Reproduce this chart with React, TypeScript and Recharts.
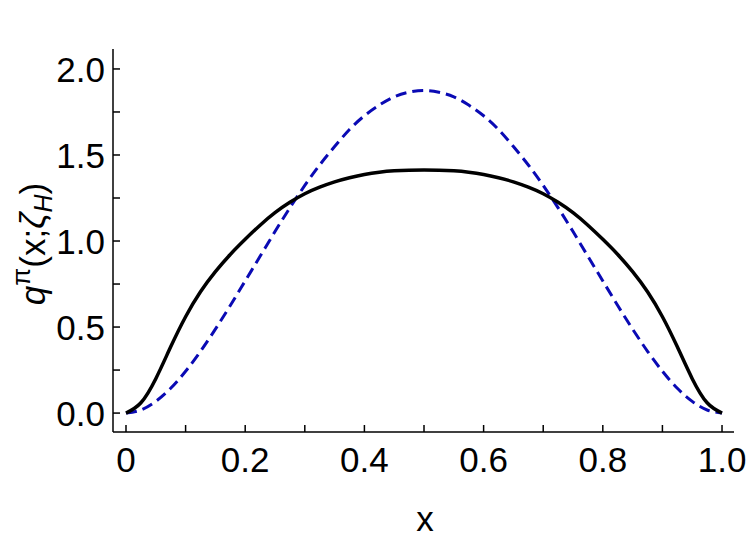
import { Line, LineChart, XAxis, YAxis } from "recharts";

// values at x steps of 0.025
const xs = [
  0, 0.025, 0.05, 0.075, 0.1, 0.125, 0.15, 0.175, 0.2, 0.225, 0.25, 0.275, 0.3,
  0.325, 0.35, 0.375, 0.4, 0.425, 0.45, 0.475, 0.5, 0.525, 0.55, 0.575, 0.6,
  0.625, 0.65, 0.675, 0.7, 0.725, 0.75, 0.775, 0.8, 0.825, 0.85, 0.875, 0.9,
  0.925, 0.95, 0.975, 1,
];

// solid black curve
const qSolid = [
  0, 0.06, 0.2, 0.385, 0.56, 0.705, 0.822, 0.922, 1.01, 1.092, 1.165, 1.225, 1.275,
  1.313, 1.344, 1.368, 1.387, 1.4, 1.408, 1.412, 1.413, 1.412, 1.408, 1.4,
  1.387, 1.368, 1.344, 1.313, 1.275, 1.225, 1.165, 1.092, 1.01, 0.922, 0.822, 0.705,
  0.56, 0.385, 0.2, 0.06, 0,
];

// dashed blue curve
const qDashed = [
  0, 0.018, 0.068, 0.144, 0.243, 0.359, 0.488, 0.625, 0.768, 0.911, 1.055, 1.193,
  1.323, 1.442, 1.549, 1.648, 1.728, 1.79, 1.838, 1.865, 1.875, 1.865, 1.838,
  1.79, 1.728, 1.648, 1.549, 1.442, 1.323, 1.193, 1.055, 0.911, 0.768, 0.625,
  0.488, 0.359, 0.243, 0.144, 0.068, 0.018, 0,
];

const xTicks = [0, 0.1, 0.2, 0.3, 0.4, 0.5, 0.6, 0.7, 0.8, 0.9, 1.0];
const yTicks = [0, 0.25, 0.5, 0.75, 1.0, 1.25, 1.5, 1.75, 2.0];

const data = xs.map((x, i) => ({ x, solid: qSolid[i], dashed: qDashed[i] }));

const FONT = "'Liberation Sans', Arial, sans-serif";
const TICK = 7;

function fmtX(v: number) {
  return v === 0 ? "0" : v.toFixed(1);
}

function BottomTick(props: any) {
  const { x, y, payload } = props;
  const major = Math.round(payload.value * 10) % 2 === 0;
  return (
    <g>
      <line x1={x} y1={y} x2={x} y2={y - TICK} stroke="#000" strokeWidth={1.5} />
      {major && (
        <text x={x} y={y + 40} textAnchor="middle" fontSize={35} fontFamily={FONT} fill="#000">
          {fmtX(payload.value)}
        </text>
      )}
    </g>
  );
}

function TopTick(props: any) {
  const { x, y } = props;
  return <line x1={x} y1={y} x2={x} y2={y + TICK} stroke="#000" strokeWidth={1.5} />;
}

function LeftTick(props: any) {
  const { x, y, payload } = props;
  const major = Math.round(payload.value * 4) % 2 === 0;
  return (
    <g>
      <line x1={x} y1={y} x2={x + TICK} y2={y} stroke="#000" strokeWidth={1.5} />
      {major && (
        <text x={x - 8} y={y + 13} textAnchor="end" fontSize={35} fontFamily={FONT} fill="#000">
          {payload.value.toFixed(1)}
        </text>
      )}
    </g>
  );
}

function RightTick(props: any) {
  const { x, y } = props;
  return <line x1={x} y1={y} x2={x - TICK} y2={y} stroke="#000" strokeWidth={1.5} />;
}

export default function App() {
  const axisLine = { stroke: "#000", strokeWidth: 1.5 };
  return (
    <div style={{ position: "absolute", left: 0, top: 0, background: "#fff" }}>
      <LineChart
        width={750}
        height={542}
        data={data}
        margin={{ top: 49, right: 16, bottom: 0, left: 0 }}
      >
        <XAxis
          dataKey="x"
          type="number"
          domain={[-0.0218, 1.0201]}
          allowDataOverflow
          ticks={xTicks}
          interval={0}
          tickSize={0}
          tickMargin={0}
          tickLine={false}
          axisLine={axisLine}
          tick={<BottomTick />}
          height={110}
        />
        <XAxis
          xAxisId="top"
          orientation="top"
          type="number"
          domain={[-0.0218, 1.0201]}
          allowDataOverflow
          ticks={xTicks}
          interval={0}
          tickSize={0}
          tickMargin={0}
          tickLine={false}
          axisLine={axisLine}
          tick={<TopTick />}
          height={0}
        />
        <YAxis
          type="number"
          domain={[-0.11, 2.116]}
          allowDataOverflow
          ticks={yTicks}
          interval={0}
          tickSize={0}
          tickMargin={0}
          tickLine={false}
          axisLine={axisLine}
          tick={<LeftTick />}
          width={113}
        />
        <YAxis
          yAxisId="right"
          orientation="right"
          type="number"
          domain={[-0.11, 2.116]}
          allowDataOverflow
          ticks={yTicks}
          interval={0}
          tickSize={0}
          tickMargin={0}
          tickLine={false}
          axisLine={axisLine}
          tick={<RightTick />}
          width={0}
        />
        <Line
          dataKey="dashed"
          type="natural"
          stroke="#0a0ab4"
          strokeWidth={3}
          strokeDasharray="11 6"
          dot={false}
          isAnimationActive={false}
        />
        <Line
          dataKey="solid"
          type="natural"
          stroke="#000"
          strokeWidth={3.5}
          dot={false}
          isAnimationActive={false}
        />
        <text x={425} y={531} textAnchor="middle" fontSize={35} fontFamily={FONT} fill="#000">
          x
        </text>
        <text
          x={45}
          y={244}
          transform="rotate(-90, 45, 244)"
          textAnchor="middle"
          fontSize={35}
          fontFamily={FONT}
          fill="#000"
        >
          <tspan fontStyle="italic">q</tspan>
          <tspan fontSize={26} dy={-15}>π</tspan>
          <tspan dy={15}>(x;</tspan>
          <tspan fontStyle="italic">ζ</tspan>
          <tspan fontSize={25} fontStyle="italic" dy={7}>H</tspan>
          <tspan dy={-7}>)</tspan>
        </text>
      </LineChart>
    </div>
  );
}
